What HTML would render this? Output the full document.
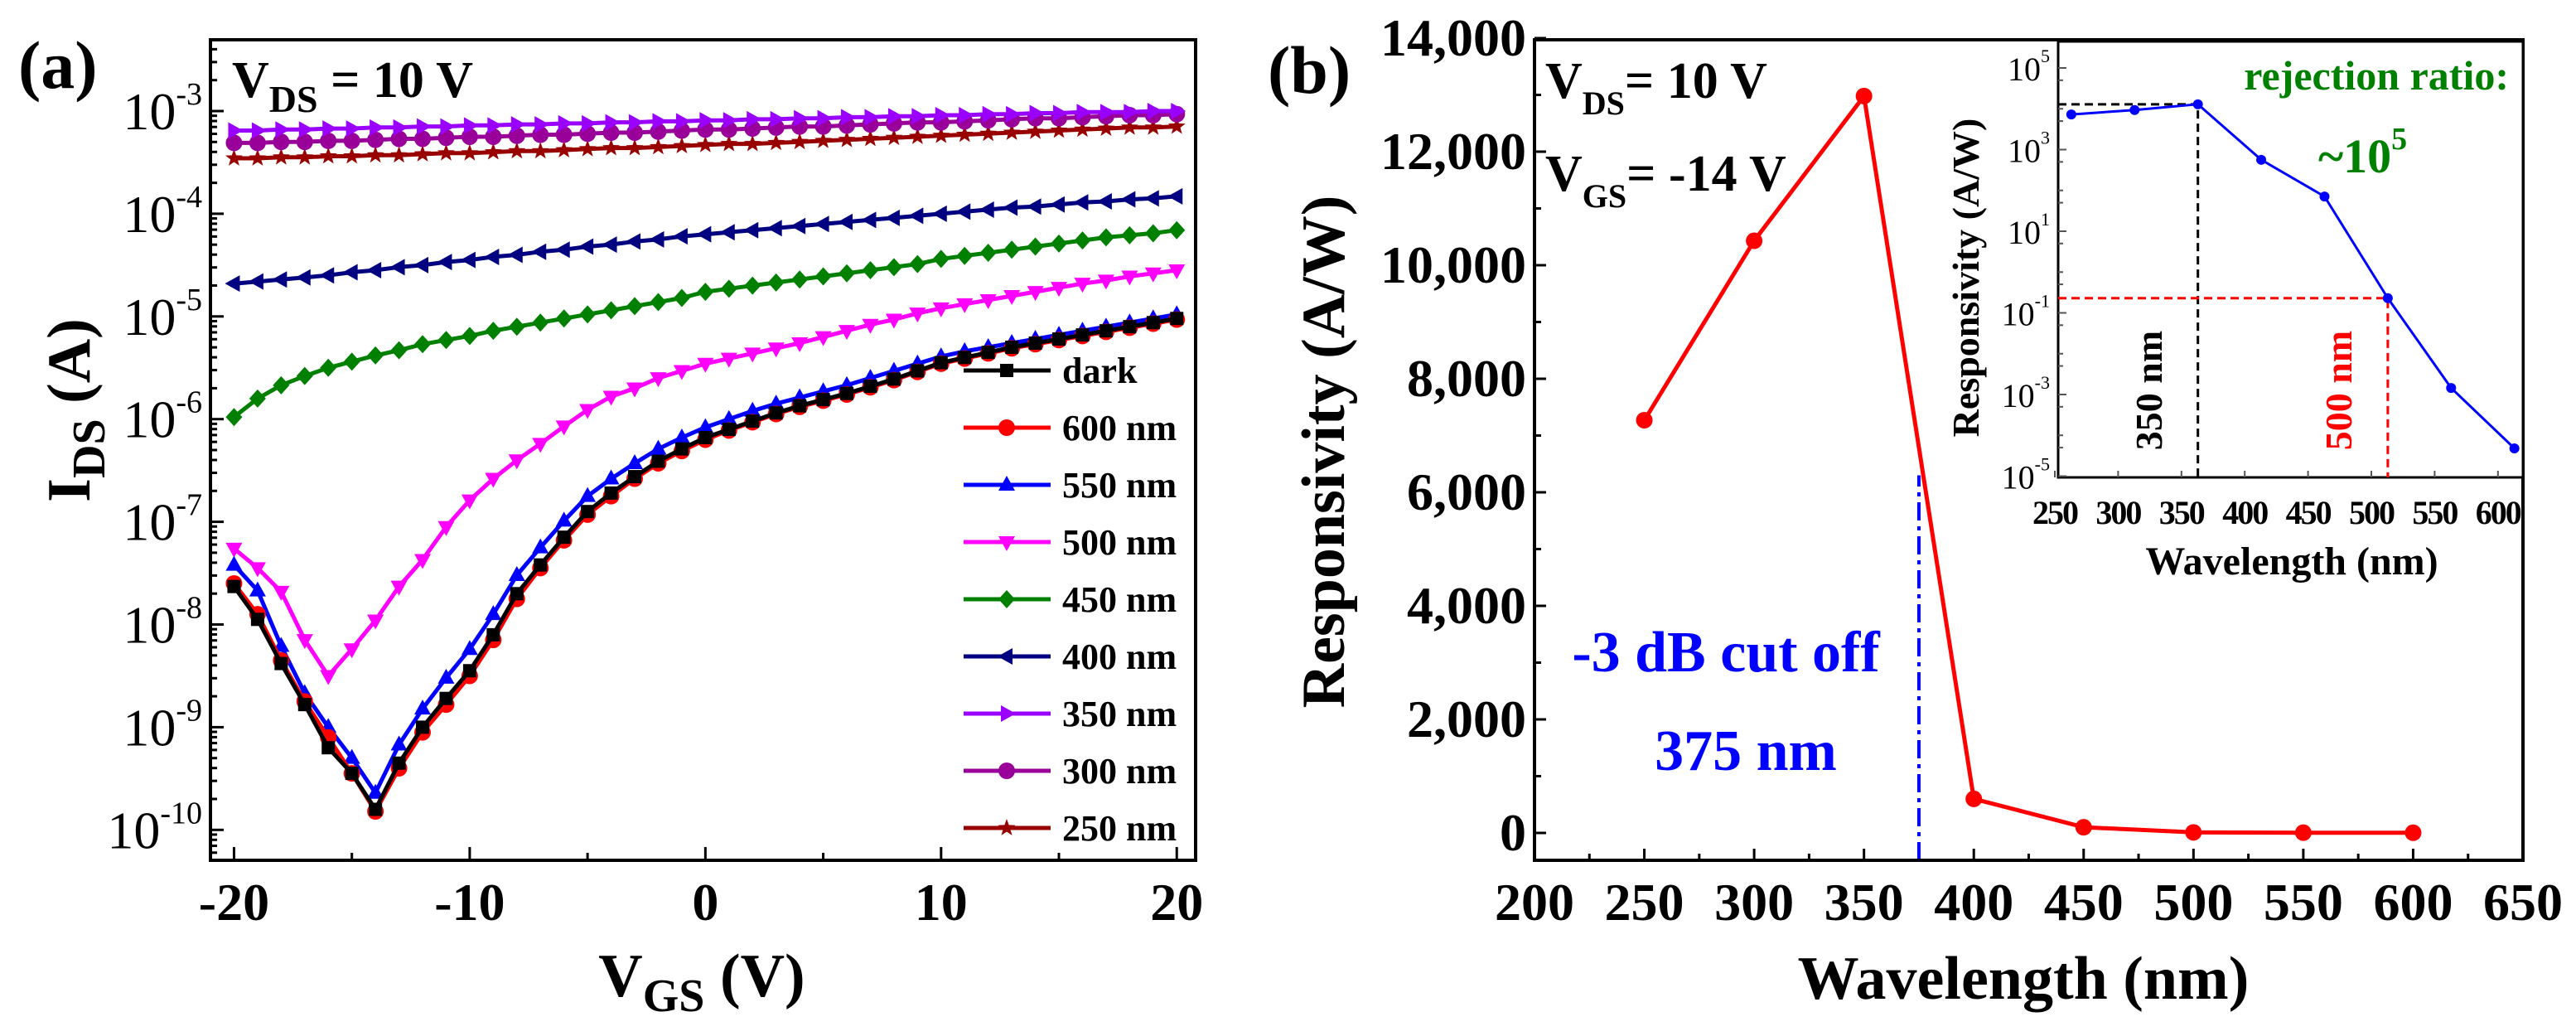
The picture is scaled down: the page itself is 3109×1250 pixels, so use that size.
<!DOCTYPE html>
<html><head><meta charset="utf-8"><style>
html,body{margin:0;padding:0;background:#fff;}
svg{display:block;font-family:"Liberation Serif",serif;}
</style></head><body>
<svg id="fig" xmlns="http://www.w3.org/2000/svg" width="3109" height="1250" viewBox="0 0 3109 1250">
<rect x="0" y="0" width="3109" height="1250" fill="#fff"/>
<g id="pa"></g>
<g id="pb"></g>
<g id="pi"></g>
</svg>
<script>
// ---------- Panel (a) data: log10(I_DS [A]) vs V_GS ----------
const vgs = [-20,-19,-18,-17,-16,-15,-14,-13,-12,-11,-10,-9,-8,-7,-6,-5,-4,-3,-2,-1,0,1,2,3,4,5,6,7,8,9,10,11,12,13,14,15,16,17,18,19,20];
const seriesNames = ["dark","600 nm","550 nm","500 nm","450 nm","400 nm","350 nm","300 nm","250 nm"];
const logDark = [-7.63,-7.95,-8.38,-8.78,-9.2,-9.45,-9.8,-9.35,-9.0,-8.72,-8.45,-8.1,-7.7,-7.42,-7.15,-6.9,-6.72,-6.56,-6.41,-6.29,-6.18,-6.1,-6.02,-5.94,-5.87,-5.81,-5.75,-5.68,-5.61,-5.53,-5.45,-5.4,-5.35,-5.3,-5.26,-5.22,-5.18,-5.14,-5.1,-5.06,-5.02];
const log600 = [-7.6,-7.9,-8.35,-8.75,-9.1,-9.45,-9.82,-9.4,-9.05,-8.78,-8.5,-8.15,-7.75,-7.45,-7.18,-6.93,-6.75,-6.58,-6.43,-6.31,-6.2,-6.11,-6.03,-5.95,-5.88,-5.82,-5.76,-5.69,-5.62,-5.54,-5.46,-5.41,-5.36,-5.31,-5.27,-5.23,-5.19,-5.15,-5.11,-5.07,-5.03];
const log550 = [-7.42,-7.67,-8.21,-8.67,-9.0,-9.3,-9.64,-9.17,-8.82,-8.52,-8.24,-7.9,-7.52,-7.25,-6.99,-6.75,-6.58,-6.43,-6.29,-6.18,-6.08,-6.0,-5.92,-5.85,-5.79,-5.73,-5.67,-5.6,-5.53,-5.46,-5.39,-5.34,-5.3,-5.26,-5.22,-5.18,-5.14,-5.1,-5.06,-5.02,-4.98];
const log500 = [-7.26,-7.45,-7.68,-8.15,-8.5,-8.24,-7.96,-7.63,-7.37,-7.05,-6.79,-6.58,-6.4,-6.24,-6.07,-5.91,-5.78,-5.7,-5.6,-5.53,-5.46,-5.41,-5.36,-5.31,-5.26,-5.2,-5.14,-5.08,-5.03,-4.97,-4.92,-4.88,-4.84,-4.8,-4.76,-4.72,-4.68,-4.65,-4.61,-4.58,-4.55];
const log450 = [-5.98,-5.8,-5.67,-5.58,-5.5,-5.44,-5.38,-5.33,-5.27,-5.23,-5.19,-5.14,-5.1,-5.06,-5.02,-4.98,-4.94,-4.9,-4.86,-4.82,-4.76,-4.73,-4.7,-4.67,-4.64,-4.61,-4.58,-4.55,-4.52,-4.49,-4.44,-4.41,-4.38,-4.35,-4.32,-4.29,-4.26,-4.23,-4.21,-4.19,-4.16];
const log400 = [-4.68,-4.66,-4.64,-4.62,-4.6,-4.57,-4.55,-4.52,-4.5,-4.47,-4.45,-4.42,-4.4,-4.37,-4.35,-4.32,-4.3,-4.27,-4.25,-4.22,-4.2,-4.18,-4.16,-4.14,-4.12,-4.1,-4.08,-4.06,-4.04,-4.02,-4.0,-3.98,-3.96,-3.94,-3.93,-3.91,-3.89,-3.88,-3.86,-3.85,-3.83];
const log350 = [-3.19,-3.19,-3.18,-3.18,-3.17,-3.17,-3.16,-3.16,-3.15,-3.15,-3.14,-3.14,-3.13,-3.13,-3.12,-3.12,-3.11,-3.11,-3.1,-3.1,-3.09,-3.09,-3.08,-3.08,-3.07,-3.07,-3.06,-3.06,-3.05,-3.05,-3.04,-3.04,-3.03,-3.03,-3.02,-3.02,-3.01,-3.01,-3.01,-3.0,-3.0];
const log300 = [-3.31,-3.31,-3.3,-3.3,-3.29,-3.29,-3.28,-3.27,-3.27,-3.26,-3.25,-3.25,-3.24,-3.23,-3.23,-3.22,-3.21,-3.21,-3.2,-3.19,-3.18,-3.18,-3.17,-3.16,-3.15,-3.15,-3.14,-3.13,-3.12,-3.11,-3.11,-3.1,-3.09,-3.08,-3.07,-3.07,-3.06,-3.05,-3.04,-3.04,-3.03];
const log250 = [-3.46,-3.46,-3.45,-3.45,-3.44,-3.44,-3.43,-3.43,-3.42,-3.41,-3.41,-3.4,-3.39,-3.39,-3.38,-3.37,-3.36,-3.36,-3.35,-3.34,-3.33,-3.32,-3.32,-3.31,-3.3,-3.29,-3.28,-3.27,-3.26,-3.25,-3.24,-3.23,-3.22,-3.21,-3.2,-3.19,-3.18,-3.17,-3.16,-3.16,-3.15];
const aXTicks = [-20,-10,0,10,20];
const aYTickExps = [-3,-4,-5,-6,-7,-8,-9,-10];

// ---------- Panel (b) data ----------
const wl = [250,300,350,400,450,500,550,600];
const resp = [7270,10430,12980,600,100,10,5,3];
const bXTicks = [200,250,300,350,400,450,500,550,600,650];
const bYTicks = [0,2000,4000,6000,8000,10000,12000,14000];
const cutoffWl = [375];
const cutoffTop = [6300];

// ---------- Inset data: log10(R) ----------
const insetWl = [263,313,363,413,463,513,563,613];
const insetLogR = [3.86,3.97,4.11,2.75,1.85,-0.64,-2.84,-4.32];
const insetXTicks = [250,300,350,400,450,500,550,600];
const insetYTickExps = [5,3,1,-1,-3,-5];
const refUV = [363];
const refVis = [513];

const NS = "http://www.w3.org/2000/svg";
function mk(parent, tag, attrs){ const e=document.createElementNS(NS,tag); for(const k in attrs) e.setAttribute(k,attrs[k]); parent.appendChild(e); return e; }

// ================= Panel (a) =================
const pa = document.getElementById('pa');
const A = {l:254,r:1443,t:48,b:1038, xmin:-21.0, xmax:20.8};
const ax = v => A.l + (v-A.xmin)/(A.xmax-A.xmin)*(A.r-A.l);
const ay = lg => 134 + (-3-lg)*123.9;

const aColors = ["#000000","#ff0000","#0000ff","#ff00ff","#008000","#000080","#9900ff","#990099","#990000"];
const aMarkers = ["square","circle","tri-up","tri-down","diamond","tri-left","tri-right","circle","star"];
const aData = [logDark,log600,log550,log500,log450,log400,log350,log300,log250];
function marker(g, type, x, y, s, col){
  let e;
  if(type==="square") e=mk(g,'rect',{x:x-s*0.8,y:y-s*0.8,width:s*1.6,height:s*1.6,fill:col});
  else if(type==="circle") e=mk(g,'circle',{cx:x,cy:y,r:s,fill:col});
  else if(type==="tri-up") e=mk(g,'polygon',{points:`${x},${y-s*1.1} ${x+s},${y+s*0.7} ${x-s},${y+s*0.7}`,fill:col});
  else if(type==="tri-down") e=mk(g,'polygon',{points:`${x},${y+s*1.1} ${x+s},${y-s*0.7} ${x-s},${y-s*0.7}`,fill:col});
  else if(type==="tri-left") e=mk(g,'polygon',{points:`${x-s*1.1},${y} ${x+s*0.7},${y-s} ${x+s*0.7},${y+s}`,fill:col});
  else if(type==="tri-right") e=mk(g,'polygon',{points:`${x+s*1.1},${y} ${x-s*0.7},${y-s} ${x-s*0.7},${y+s}`,fill:col});
  else if(type==="diamond") e=mk(g,'polygon',{points:`${x},${y-s*1.1} ${x+s},${y} ${x},${y+s*1.1} ${x-s},${y}`,fill:col});
  else { let p=[]; for(let i=0;i<10;i++){const r=i%2?s*0.45:s*1.1; const a=-Math.PI/2+i*Math.PI/5; p.push((x+r*Math.cos(a)).toFixed(1)+","+(y+r*Math.sin(a)).toFixed(1));} e=mk(g,'polygon',{points:p.join(' '),fill:col}); }
  return e;
}
for(let si=aData.length-1; si>=0; si--){
  const g = mk(pa,'g',{});
  
  
  const d = aData[si]; const n = Math.min(d.length, vgs.length);
  let pts=[]; for(let i=0;i<n;i++) pts.push(ax(vgs[i]).toFixed(1)+","+ay(d[i]).toFixed(1));
  const pl = mk(g,'polyline',{points:pts.join(' '),fill:'none',stroke:aColors[si],'stroke-width':5,'stroke-linejoin':'round'});
  
  
  for(let i=0;i<n;i++){
    const m = marker(g, aMarkers[si], ax(vgs[i]), ay(d[i]), 10, aColors[si]);
    
    
  }
}
const fa = mk(pa,'rect',{x:A.l,y:A.t,width:A.r-A.l,height:A.b-A.t,fill:'none',stroke:'#000','stroke-width':4});


for(let v=-20; v<=20; v+=5){
  const major = v%10===0;
  mk(pa,'line',{x1:ax(v),x2:ax(v),y1:A.b,y2:A.b-(major?16:9),stroke:'#000','stroke-width':3});
}
aXTicks.forEach(v=>{
  const t = mk(pa,'text',{x:ax(v),y:1110,'text-anchor':'middle','font-size':64,'font-weight':'bold'});
  t.textContent = String(v);
  
  
});
for(let e=-2; e>=-11; e--){
  for(let k=1;k<10;k++){
    const L = (e-1) + Math.log10(k);
    const y = ay(L);
    if(y<A.t||y>A.b) continue;
    mk(pa,'line',{x1:A.l,x2:A.l+(k===1?16:8),y1:y,y2:y,stroke:'#000','stroke-width':3});
  }
}
aYTickExps.forEach(ex=>{
  const y = ay(ex);
  const t = mk(pa,'text',{x:244,y:y+22,'text-anchor':'end','font-size':64});
  const s1 = mk(t,'tspan',{}); s1.textContent='10';
  const s2 = mk(t,'tspan',{'font-size':38,dy:-30}); s2.textContent=String(ex);
  
  
});
let t;
t = mk(pa,'text',{x:847,y:1202,'text-anchor':'middle','font-size':74,'font-weight':'bold'});
t.innerHTML = 'V<tspan font-size="56" dy="18">GS</tspan><tspan dy="-18"> (V)</tspan>';


t = mk(pa,'text',{x:0,y:0,'text-anchor':'middle','font-size':74,'font-weight':'bold',transform:'translate(108,495) rotate(-90)'});
t.innerHTML = 'I<tspan font-size="56" dy="18">DS</tspan><tspan dy="-18"> (A)</tspan>';


t = mk(pa,'text',{x:22,y:106,'font-size':82,'font-weight':'bold'}); t.textContent='(a)';


t = mk(pa,'text',{x:280,y:117,'font-size':62,'font-weight':'bold'});
t.innerHTML = 'V<tspan font-size="46" dy="18">DS</tspan><tspan dy="-18"> = 10 V</tspan>';


const leg = mk(pa,'g',{});


seriesNames.forEach((nm,i)=>{
  const y = 447 + i*69;
  const g = mk(leg,'g',{});
  
  
  mk(g,'line',{x1:1163,x2:1268,y1:y,y2:y,stroke:aColors[i],'stroke-width':5});
  marker(g, aMarkers[i], 1215, y, 10, aColors[i]);
  const tt = mk(g,'text',{x:1282,y:y+15,'font-size':44,'font-weight':'bold'}); tt.textContent=nm;
});

// ================= Panel (b) =================
const pb = document.getElementById('pb');
const B = {l:1852,r:3045,t:48,b:1038, xmin:200, xmax:650};
const ybAt0 = 1005, yPer = 137/2000;
const bx = w => B.l + (w-B.xmin)/(B.xmax-B.xmin)*(B.r-B.l);
const by = v => ybAt0 - v*yPer;
for(let w=200; w<=650; w+=25){ const major = w%50===0; mk(pb,'line',{x1:bx(w),x2:bx(w),y1:B.b,y2:B.b-(major?14:8),stroke:'#000','stroke-width':3}); }
for(let v=0; v<=14000; v+=1000){ const major=v%2000===0; mk(pb,'line',{x1:B.l,x2:B.l+(major?14:8),y1:by(v),y2:by(v),stroke:'#000','stroke-width':3}); }
bXTicks.forEach(w=>{
  const tt = mk(pb,'text',{x:bx(w),y:1110,'text-anchor':'middle','font-size':64,'font-weight':'bold'}); tt.textContent=String(w);
  
  
});
bYTicks.forEach(v=>{
  const tt = mk(pb,'text',{x:1842,y:by(v)+21,'text-anchor':'end','font-size':64,'font-weight':'bold'}); tt.textContent=v.toLocaleString('en-US');
  
  
});
cutoffWl.forEach((c,i)=>{
  const cl = mk(pb,'line',{x1:bx(c),x2:bx(c),y1:B.b,y2:by(cutoffTop[i]),stroke:'#0000ff','stroke-width':4,'stroke-dasharray':'22,7,5,7'});
  
  
});
const gb = mk(pb,'g',{});


const rl = mk(gb,'polyline',{points:wl.map((w,i)=>bx(w).toFixed(1)+','+by(resp[i]).toFixed(1)).join(' '),fill:'none',stroke:'#ff0000','stroke-width':5,'stroke-linejoin':'round'});


wl.forEach((w,i)=>{
  const c = mk(gb,'circle',{cx:bx(w),cy:by(resp[i]),r:10,fill:'#ff0000'});
  
  
});
const fb = mk(pb,'rect',{x:B.l,y:B.t,width:B.r-B.l,height:B.b-B.t,fill:'none',stroke:'#000','stroke-width':4});


t = mk(pb,'text',{x:2442,y:1205,'text-anchor':'middle','font-size':74,'font-weight':'bold'}); t.textContent='Wavelength (nm)';


t = mk(pb,'text',{x:0,y:0,'text-anchor':'middle','font-size':74,'font-weight':'bold',transform:'translate(1622,545) rotate(-90)'}); t.textContent='Responsivity (A/W)';


t = mk(pb,'text',{x:1530,y:112,'font-size':82,'font-weight':'bold'}); t.textContent='(b)';


t = mk(pb,'text',{x:1865,y:118,'font-size':62,'font-weight':'bold'});
t.innerHTML='V<tspan font-size="40" dy="20">DS</tspan><tspan dy="-20">= 10 V</tspan>';


t = mk(pb,'text',{x:1865,y:230,'font-size':62,'font-weight':'bold'});
t.innerHTML='V<tspan font-size="40" dy="20">GS</tspan><tspan dy="-20">= -14 V</tspan>';


t = mk(pb,'text',{x:2083,y:810,'text-anchor':'middle','font-size':70,'font-weight':'bold',fill:'#0000ff'}); t.textContent='-3 dB cut off';


t = mk(pb,'text',{x:2107,y:929,'text-anchor':'middle','font-size':70,'font-weight':'bold',fill:'#0000ff'}); t.textContent='375 nm';



// ================= Inset =================
const pi = document.getElementById('pi');
const I = {l:2484,r:3045,t:50,b:576};
const ix = w => 2480 + (w-250)*1.528;
const iy = lg => 82 + (5-lg)*49.25;
const ib = mk(pi,'rect',{x:I.l,y:I.t,width:I.r-I.l,height:I.b-I.t,fill:'#fff',stroke:'#000','stroke-width':3});


for(let e=6;e>=-5;e--){ for(let k=1;k<10;k++){ const L=(e-1)+Math.log10(k); const y=iy(L); if(y<I.t||y>I.b) continue; if(k===1||k===5) mk(pi,'line',{x1:I.l,x2:I.l+(k===1&&((e-1)%2!==0)?10:6),y1:y,y2:y,stroke:'#555','stroke-width':2}); } }
for(let w=250; w<=600; w+=50) mk(pi,'line',{x1:ix(w),x2:ix(w),y1:I.b,y2:I.b-8,stroke:'#555','stroke-width':2});
insetXTicks.forEach(w=>{
  const tt = mk(pi,'text',{x:ix(w),y:632,'text-anchor':'middle','font-size':40,'font-weight':'bold','letter-spacing':'-2'}); tt.textContent=String(w);
  
  
});
insetYTickExps.forEach(ex=>{
  const tt = mk(pi,'text',{x:2474,y:iy(ex)+15,'text-anchor':'end','font-size':40});
  const a1 = mk(tt,'tspan',{}); a1.textContent='10';
  const a2 = mk(tt,'tspan',{'font-size':22,dy:-22}); a2.textContent=String(ex);
  
  
});
refUV.forEach(w=>{
  const i = insetWl.indexOf(w); const lg = insetLogR[i];
  const h = mk(pi,'polyline',{points:`${I.l},${iy(lg)} ${ix(w)},${iy(lg)} ${ix(w)},${I.b}`,fill:'none',stroke:'#000','stroke-width':3,'stroke-dasharray':'10,6'});
  
  
});
refVis.forEach(w=>{
  const i = insetWl.indexOf(w); const lg = insetLogR[i];
  const h = mk(pi,'polyline',{points:`${I.l},${iy(lg)} ${ix(w)},${iy(lg)} ${ix(w)},${I.b}`,fill:'none',stroke:'#ff0000','stroke-width':3,'stroke-dasharray':'10,6'});
  
  
});
const il = mk(pi,'polyline',{points:insetWl.map((w,i)=>ix(w).toFixed(1)+','+iy(insetLogR[i]).toFixed(1)).join(' '),fill:'none',stroke:'#0000ff','stroke-width':3});


insetWl.forEach((w,i)=>{
  const c = mk(pi,'circle',{cx:ix(w),cy:iy(insetLogR[i]),r:6,fill:'#0000ff'});
  
  
});
t = mk(pi,'text',{x:3028,y:108,'text-anchor':'end','font-size':50,'font-weight':'bold',fill:'#008000'}); t.textContent='rejection ratio:';


t = mk(pi,'text',{x:2798,y:208,'font-size':58,'font-weight':'bold',fill:'#008000'});
t.innerHTML='~10<tspan font-size="38" dy="-28">5</tspan>';


t = mk(pi,'text',{x:0,y:0,'text-anchor':'middle','font-size':46,'font-weight':'bold',transform:'translate(2388,335) rotate(-90)'}); t.textContent='Responsivity (A/W)';


t = mk(pi,'text',{x:2766,y:693,'text-anchor':'middle','font-size':48,'font-weight':'bold'}); t.textContent='Wavelength (nm)';


t = mk(pi,'text',{x:0,y:0,'text-anchor':'middle','font-size':46,'font-weight':'bold',transform:'translate(2609,471) rotate(-90)'}); t.textContent='350 nm';


t = mk(pi,'text',{x:0,y:0,'text-anchor':'middle','font-size':46,'font-weight':'bold',fill:'#ff0000',transform:'translate(2838,471) rotate(-90)'}); t.textContent='500 nm';


</script>
</body></html>
